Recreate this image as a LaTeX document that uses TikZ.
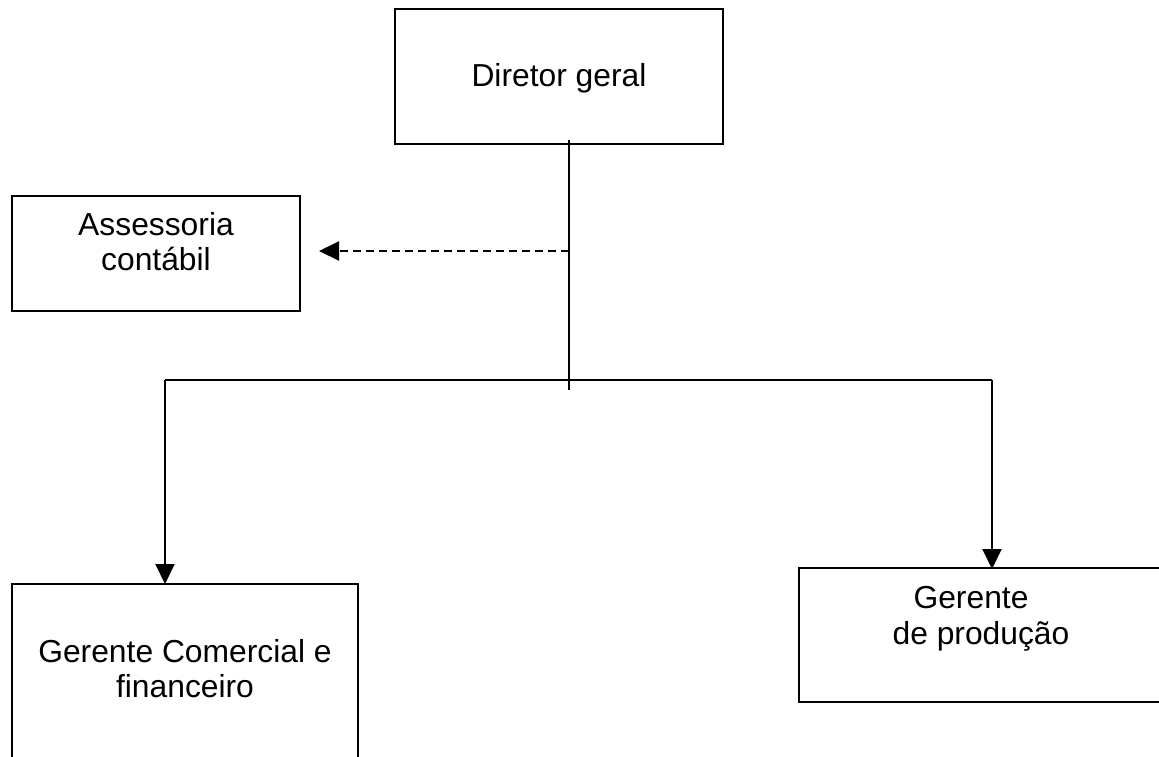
\documentclass[tikz,border=0pt]{standalone}
\usepackage{fontspec}
\setmainfont{Liberation Sans}
\usetikzlibrary{arrows.meta}
\begin{document}
\begin{tikzpicture}[x=1pt,y=-1pt,
  box/.style={draw=black,line width=2pt},
  link/.style={draw=black,line width=2pt},
  tip/.style={-{Triangle[length=20pt,width=19pt]}},
  lbl/.style={inner sep=0pt,anchor=base,font=\fontsize{31.8pt}{36pt}\selectfont}]
\useasboundingbox (0,0) rectangle (1159,757);
\clip (0,0) rectangle (1159,757);

% boxes
\draw[box] (395,9) rectangle (723,144);
\draw[box] (12,196) rectangle (300,311);
\draw[box] (12,584) rectangle (358,770);
\draw[box] (799,568) rectangle (1180,702);

% labels
\node[lbl] (dir)  at (559,87)  {Diretor geral};
\node[lbl] (as1)  at (156,235) {Assessoria};
\node[lbl] (as2)  at (156,270) {contábil};
\node[lbl] (gc1)  at (185,662) {Gerente Comercial e};
\node[lbl] (gc2)  at (185,697) {financeiro};
\node[lbl] (gp1)  at (971,608) {Gerente};
\node[lbl] (gp2)  at (981,644) {de produção};

% connector points
\coordinate (top)   at (569,140);
\coordinate (stem)  at (569,390);
\coordinate (mid)   at (569,251);
\coordinate (asin)  at (319,251);
\coordinate (bl)    at (165,380);
\coordinate (br)    at (992,380);
\coordinate (gcin)  at (165,584);
\coordinate (gpin)  at (992,569);

% connectors
\draw[link] (top) -- (stem);
\draw[link,dash pattern=on 8pt off 5pt,tip] (mid) -- (asin);
\draw[link] (bl) -- (br);
\draw[link,tip] (bl) -- (gcin);
\draw[link,tip] (br) -- (gpin);
\end{tikzpicture}
\end{document}
